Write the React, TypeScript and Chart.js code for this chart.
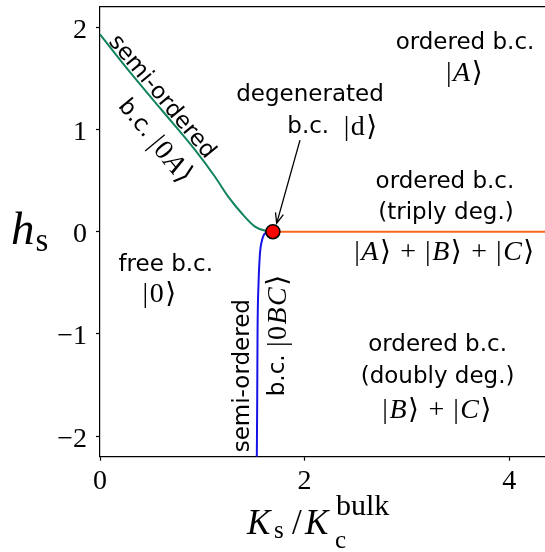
import React, { useEffect, useRef } from "react";
import { Chart, registerables } from "chart.js";
Chart.register(...registerables);

// ---- data ----
const xTicks = [0, 2, 4];
const yTicks = [-2, -1, 0, 1, 2];
const xMin = 0;
const xMax = 4.35;
const yMin = -2.2;
const yMax = 2.2;

const greenX = [0, 0.277, 0.603, 0.929, 1.124, 1.255, 1.385, 1.515, 1.613, 1.69];
const greenY = [1.93, 1.58, 1.19, 0.8, 0.537, 0.34, 0.18, 0.05, 0.01, 0];

const blueX = [1.533, 1.537, 1.54, 1.55, 1.564, 1.58, 1.61, 1.65, 1.69];
const blueY = [-2.2, -1.6, -1.0, -0.5, -0.21, -0.1, -0.02, -0.003, 0];

const orangeX = [1.69, 4.4];
const orangeY = [0, 0];

const pointX = [1.69];
const pointY = [0];

// ---- text helpers ----
type Seg = { t: string; f: "sans" | "serif" | "serifI"; s?: number; g?: number };
const SANS = 23;
const MATH = 28;
const MG = 1.5;
const sans = (t: string): Seg[] => [{ t, f: "sans", s: SANS }];
const ket = (parts: [string, boolean][]): Seg[] => [
  { t: "|", f: "serif", s: MATH, g: MG },
  ...parts.map(([t, it]) => ({ t, f: (it ? "serifI" : "serif") as Seg["f"], s: MATH, g: MG })),
  { t: "\u27E9", f: "serif", s: MATH, g: MG },
];
const plus: Seg[] = [{ t: " + ", f: "serif", s: MATH, g: 1 }];

type Ann = { x: number; y: number; rot?: number; segs: Seg[] };
const annots: Ann[] = [
  { x: 3.568, y: 1.84, segs: sans("ordered b.c.") },
  { x: 3.568, y: 1.55, segs: ket([["A", true]]) },
  { x: 2.053, y: 1.333, segs: sans("degenerated") },
  { x: 2.278, y: 1.02, segs: [...sans("b.c.  "), ...ket([["d", false]])] },
  { x: 3.372, y: 0.485, segs: sans("ordered b.c.") },
  { x: 3.382, y: 0.18, segs: sans("(triply deg.)") },
  { x: 3.372, y: -0.2, segs: [...ket([["A", true]]), ...plus, ...ket([["B", true]]), ...plus, ...ket([["C", true]])] },
  { x: 3.3, y: -1.105, segs: sans("ordered b.c.") },
  { x: 3.3, y: -1.418, segs: sans("(doubly deg.)") },
  { x: 3.3, y: -1.75, segs: [...ket([["B", true]]), ...plus, ...ket([["C", true]])] },
  { x: 0.643, y: -0.325, segs: sans("free b.c.") },
  { x: 0.587, y: -0.618, segs: ket([["0", false]]) },
  { x: 0.603, y: 1.317, rot: 50.2, segs: sans("semi-ordered") },
  { x: 0.538, y: 0.878, rot: 50.2, segs: [...sans("b.c. "), ...ket([["0", false], ["A", true]])] },
  { x: 1.401, y: -1.408, rot: -90, segs: sans("semi-ordered") },
  { x: 1.743, y: -1.008, rot: -90, segs: [...sans("b.c. "), ...ket([["0", false], ["BC", true]])] },
];

const arrowFrom = { x: 1.955, y: 0.895 };
const arrowTo = { x: 1.727, y: 0.082 };

const fontOf = (seg: Seg) => {
  const s = seg.s ?? SANS;
  if (seg.f === "sans") return `${s}px "DejaVu Sans"`;
  if (seg.f === "serifI") return `italic ${s}px "Liberation Serif", "DejaVu Serif"`;
  return `${s}px "Liberation Serif", "DejaVu Serif"`;
};

// expand segments with gaps into per-char pieces
function pieces(ctx: CanvasRenderingContext2D, segs: Seg[]) {
  const out: { t: string; font: string; w: number }[] = [];
  segs.forEach((sg) => {
    const font = fontOf(sg);
    ctx.font = font;
    if (sg.g) {
      for (const ch of Array.from(sg.t)) {
        out.push({ t: ch, font, w: ctx.measureText(ch).width + sg.g });
      }
    } else {
      out.push({ t: sg.t, font, w: ctx.measureText(sg.t).width });
    }
  });
  return out;
}

function drawSegs(ctx: CanvasRenderingContext2D, segs: Seg[], cx: number, cy: number, rot = 0) {
  ctx.save();
  ctx.translate(cx, cy);
  ctx.rotate((rot * Math.PI) / 180);
  ctx.textBaseline = "middle";
  ctx.textAlign = "left";
  ctx.fillStyle = "#000";
  const ps = pieces(ctx, segs);
  const total = ps.reduce((a, p) => a + p.w, 0);
  let x = -total / 2;
  ps.forEach((p) => {
    ctx.font = p.font;
    ctx.fillText(p.t, x, 0);
    x += p.w;
  });
  ctx.restore();
}

const annotPlugin = {
  id: "annots",
  afterDatasetsDraw(chart: any) {
    const ctx: CanvasRenderingContext2D = chart.ctx;
    const xs = chart.scales.x;
    const ys = chart.scales.y;
    const ca = chart.chartArea;
    // top frame
    ctx.save();
    ctx.strokeStyle = "#000";
    ctx.lineWidth = 1.2;
    ctx.beginPath();
    ctx.moveTo(ca.left, ca.top);
    ctx.lineTo(ca.right, ca.top);
    ctx.stroke();
    ctx.restore();

    annots.forEach((a) => drawSegs(ctx, a.segs, xs.getPixelForValue(a.x), ys.getPixelForValue(a.y), a.rot ?? 0));

    // arrow
    const x0 = xs.getPixelForValue(arrowFrom.x);
    const y0 = ys.getPixelForValue(arrowFrom.y);
    const x1 = xs.getPixelForValue(arrowTo.x);
    const y1 = ys.getPixelForValue(arrowTo.y);
    const ang = Math.atan2(y1 - y0, x1 - x0);
    const hl = 11;
    const ha = 0.38;
    ctx.save();
    ctx.strokeStyle = "#000";
    ctx.lineWidth = 1.3;
    ctx.beginPath();
    ctx.moveTo(x0, y0);
    ctx.lineTo(x1, y1);
    ctx.moveTo(x1 - hl * Math.cos(ang - ha), y1 - hl * Math.sin(ang - ha));
    ctx.lineTo(x1, y1);
    ctx.lineTo(x1 - hl * Math.cos(ang + ha), y1 - hl * Math.sin(ang + ha));
    ctx.stroke();
    ctx.restore();

    // axis titles
    ctx.save();
    ctx.fillStyle = "#000";
    ctx.textBaseline = "alphabetic";
    ctx.textAlign = "left";
    // y title: h_s
    const yb = ys.getPixelForValue(0) + 12;
    ctx.font = 'italic 47px "Liberation Serif"';
    ctx.fillText("h", 11, yb);
    const hw = ctx.measureText("h").width;
    ctx.font = '33px "Liberation Serif"';
    ctx.fillText("s", 11 + hw + 1, yb + 7);
    // x title: K_s / K_c^bulk
    const X0 = ca.left + 147;
    const xb = 534;
    ctx.font = 'italic 35px "Liberation Serif"';
    ctx.fillText("K", X0, xb);
    ctx.font = '25px "Liberation Serif"';
    ctx.fillText("s", X0 + 27, xb + 4);
    ctx.font = '35px "Liberation Serif"';
    ctx.fillText("/", X0 + 45, xb);
    ctx.font = 'italic 35px "Liberation Serif"';
    ctx.fillText("K", X0 + 58, xb);
    ctx.font = '25px "Liberation Serif"';
    ctx.fillText("c", X0 + 88, xb + 14);
    ctx.font = '30px "Liberation Serif"';
    ctx.fillText("bulk", X0 + 89, xb - 19);
    ctx.restore();
  },
};

const fmt = (v: any) => {
  const n = Number(v);
  return n < 0 ? "\u2212" + Math.abs(n) : String(n);
};

export default function App() {
  const ref = useRef<HTMLCanvasElement | null>(null);
  useEffect(() => {
    if (!ref.current) return;
    const pts = (xs: number[], ys: number[]) => xs.map((x, i) => ({ x, y: ys[i] }));
    const chart = new Chart(ref.current, {
      type: "scatter",
      data: {
        datasets: [
          {
            data: pts(greenX, greenY),
            showLine: true,
            borderColor: "#12845a",
            borderWidth: 2,
            pointRadius: 0,
            cubicInterpolationMode: "monotone",
            order: 3,
          },
          {
            data: pts(blueX, blueY),
            showLine: true,
            borderColor: "#1414e8",
            borderWidth: 2,
            pointRadius: 0,
            cubicInterpolationMode: "monotone",
            order: 3,
          },
          {
            data: pts(orangeX, orangeY),
            showLine: true,
            borderColor: "#f8661e",
            borderWidth: 2,
            pointRadius: 0,
            order: 2,
          },
          {
            data: pts(pointX, pointY),
            showLine: false,
            pointRadius: 7,
            backgroundColor: "#ff0000",
            borderColor: "#000",
            borderWidth: 1.5,
            order: 1,
            clip: false,
          },
        ],
      } as any,
      options: {
        animation: false,
        responsive: false,
        maintainAspectRatio: false,
        layout: { autoPadding: false, padding: { left: 0, right: 0, top: 6.7, bottom: 0 } },
        plugins: { legend: { display: false }, tooltip: { enabled: false }, title: { display: false } },
        scales: {
          x: {
            type: "linear",
            min: xMin,
            max: xMax,
            afterBuildTicks: (s: any) => {
              s.ticks = xTicks.map((v) => ({ value: v }));
            },
            afterFit: (s: any) => {
              s.height = 95.3;
              s.paddingLeft = 0;
              s.paddingRight = 0;
            },
            grid: { drawOnChartArea: false, drawTicks: true, tickLength: 4, tickColor: "#000", tickWidth: 1.2 },
            border: { display: true, color: "#000", width: 1.2 },
            ticks: {
              font: { family: "Liberation Serif", size: 28 },
              color: "#000",
              padding: 4,
              maxRotation: 0,
              callback: fmt,
            },
          },
          y: {
            type: "linear",
            min: yMin,
            max: yMax,
            afterBuildTicks: (s: any) => {
              s.ticks = yTicks.map((v) => ({ value: v }));
            },
            afterFit: (s: any) => {
              s.width = 100;
              s.paddingTop = 0;
              s.paddingBottom = 0;
            },
            grid: { drawOnChartArea: false, drawTicks: true, tickLength: 4, tickColor: "#000", tickWidth: 1.2 },
            border: { display: true, color: "#000", width: 1.2 },
            ticks: {
              font: { family: "Liberation Serif", size: 28 },
              color: "#000",
              padding: 9,
              labelOffset: 3,
              callback: fmt,
            },
          },
        },
      } as any,
      plugins: [annotPlugin],
    });
    return () => chart.destroy();
  }, []);
  return (
    <div style={{ position: "fixed", left: 0, top: 0, width: 545, height: 552, overflow: "hidden", background: "#fff" }}>
      <canvas ref={ref} width={545} height={552} style={{ display: "block", width: 545, height: 552 }} />
    </div>
  );
}
